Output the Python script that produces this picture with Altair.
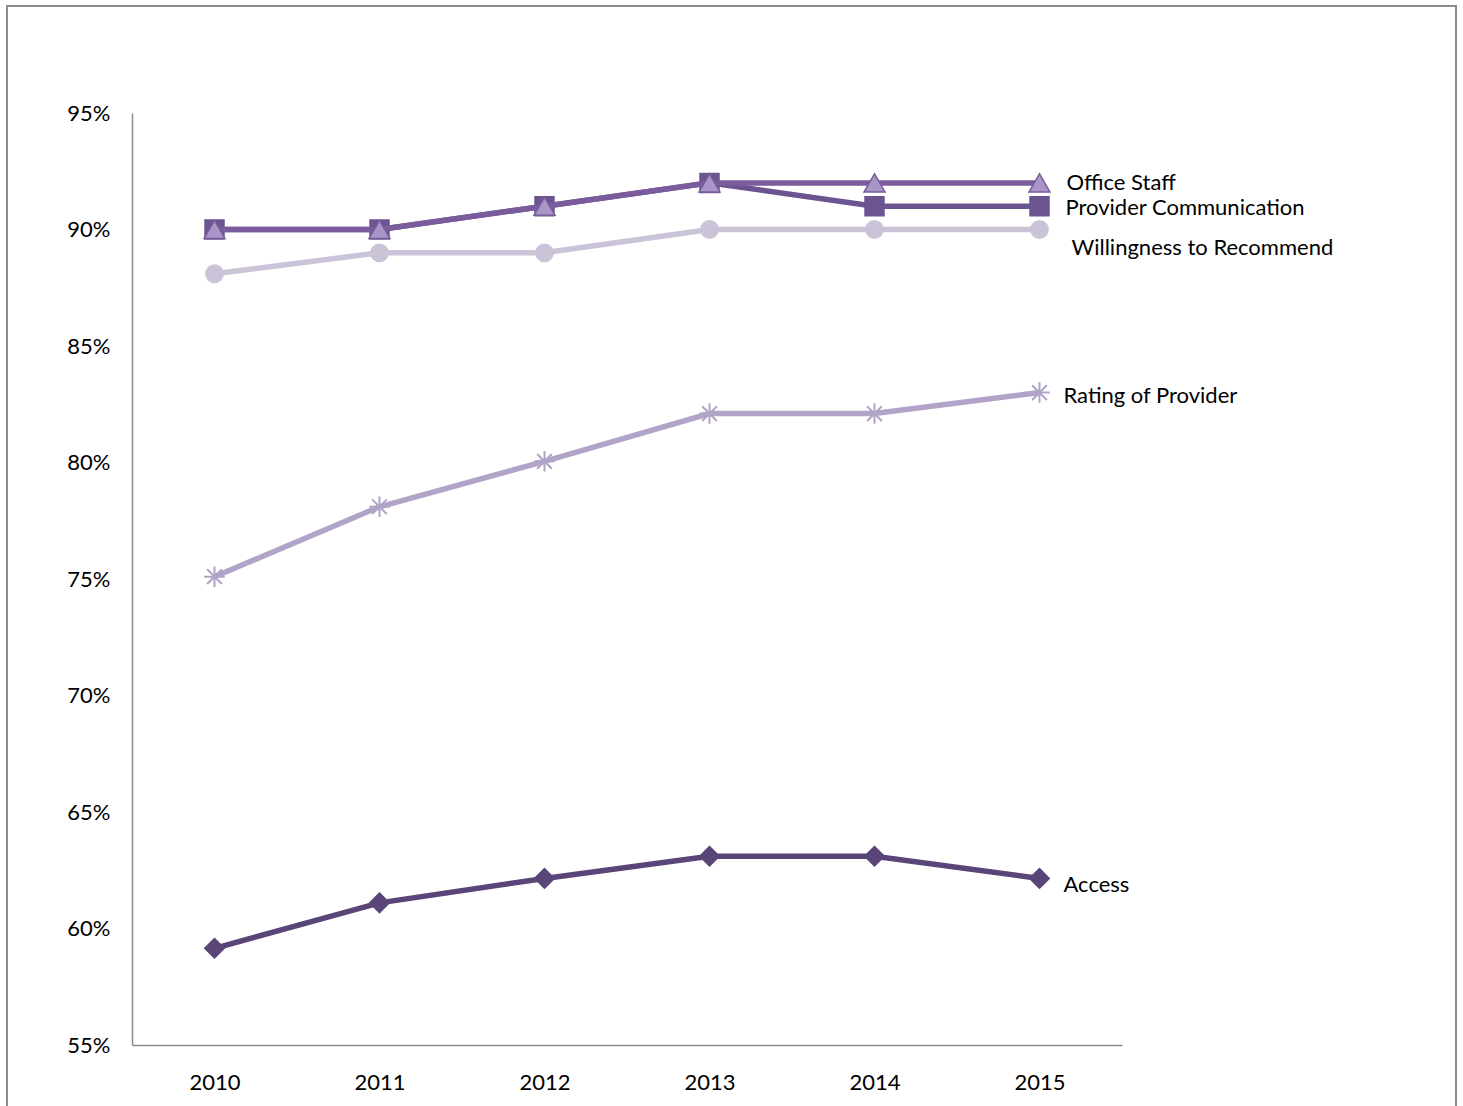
import altair as alt
import pandas as pd

years = ["2010", "2011", "2012", "2013", "2014", "2015"]
office_staff = [90, 90, 91, 92, 92, 92]
provider_comm = [90, 90, 91, 92, 91, 91]
willingness = [88.1, 89.0, 89.0, 90.0, 90.0, 90.0]
rating = [75.1, 78.1, 80.05, 82.1, 82.1, 83.0]
access = [59.15, 61.1, 62.15, 63.1, 63.1, 62.15]
y_ticks = [55, 60, 65, 70, 75, 80, 85, 90, 95]

series = [
    # name, values, line colour, marker shape, marker fill, marker stroke, size, label dx, label dy
    ("Willingness to Recommend", willingness, "#CBC3D8", "circle", "#CBC3D8", "#CBC3D8", 300, 32, 18),
    ("Rating of Provider", rating, "#B1A4C8", "M-1,0L1,0M-0.72,-0.72L0.72,0.72M-0.72,0.72L0.72,-0.72M0,-1L0,1", None, "#B1A4C8", 420, 24, 3),
    ("Access", access, "#5A4578", "diamond", "#5A4578", "#5A4578", 380, 24, 7),
    ("Provider Communication", provider_comm, "#6C5491", "square", "#6C5491", "#6C5491", 360, 26, 2),
    ("Office Staff", office_staff, "#7A5C9C", "triangle-up", "#A796C6", "#7A5C9C", 440, 27, 0),
]

FONT = "Lato"

x_enc = alt.X("year:O", sort=years,
              scale=alt.Scale(type="point", padding=0.5),
              axis=alt.Axis(title=None, labelAngle=0, ticks=False, grid=False,
                            domainColor="#8C8C8C", domainWidth=1.5,
                            labelFontSize=22, labelFont=FONT, labelColor="#000000",
                            labelPadding=27))
y_enc = alt.Y("value:Q", scale=alt.Scale(domain=[55, 95], nice=False, zero=False),
              axis=alt.Axis(title=None, values=y_ticks, ticks=False, grid=False,
                            labelExpr="datum.value + '%'",
                            domainColor="#8C8C8C", domainWidth=1.5,
                            labelFontSize=22, labelFont=FONT, labelColor="#000000",
                            labelPadding=22))

layers = []

# outer frame
frame = alt.Chart(pd.DataFrame({"a": [0]})).mark_rect(
    fill=None, stroke="#8C8C8C", strokeWidth=2, clip=False
).encode(x=alt.value(-125), x2=alt.value(1324), y=alt.value(-107), y2=alt.value(1010))
layers.append(frame)

for name, vals, color, shape, fill, stroke, size, dx, dy in series:
    df = pd.DataFrame({"year": years, "value": vals, "series": name})
    base = alt.Chart(df)
    line = base.mark_line(color=color, strokeWidth=5.5).encode(x=x_enc, y=y_enc)
    if fill is None:
        pts = base.mark_point(shape=shape, size=size, filled=False, stroke=stroke,
                              strokeWidth=2, opacity=1).encode(x=x_enc, y=y_enc)
    else:
        pts = base.mark_point(shape=shape, size=size, filled=True, fill=fill,
                              stroke=stroke, strokeWidth=1.5, opacity=1).encode(x=x_enc, y=y_enc)
    lab_df = df[df["year"] == years[-1]]
    label = alt.Chart(lab_df).mark_text(
        align="left", baseline="middle", dx=dx, dy=dy, font=FONT, fontSize=22, color="#000000"
    ).encode(x=x_enc, y=y_enc, text="series:N")
    layers += [line, pts, label]

chart = alt.layer(*layers).properties(
    width=990, height=932,
    background="white",
    autosize=alt.AutoSizeParams(type="none"),
    padding={"left": 132, "top": 113, "right": 341, "bottom": 61},
).configure_view(strokeWidth=0, stroke="transparent")

chart.save("out.html", embed_options={"renderer": "svg", "actions": False})
